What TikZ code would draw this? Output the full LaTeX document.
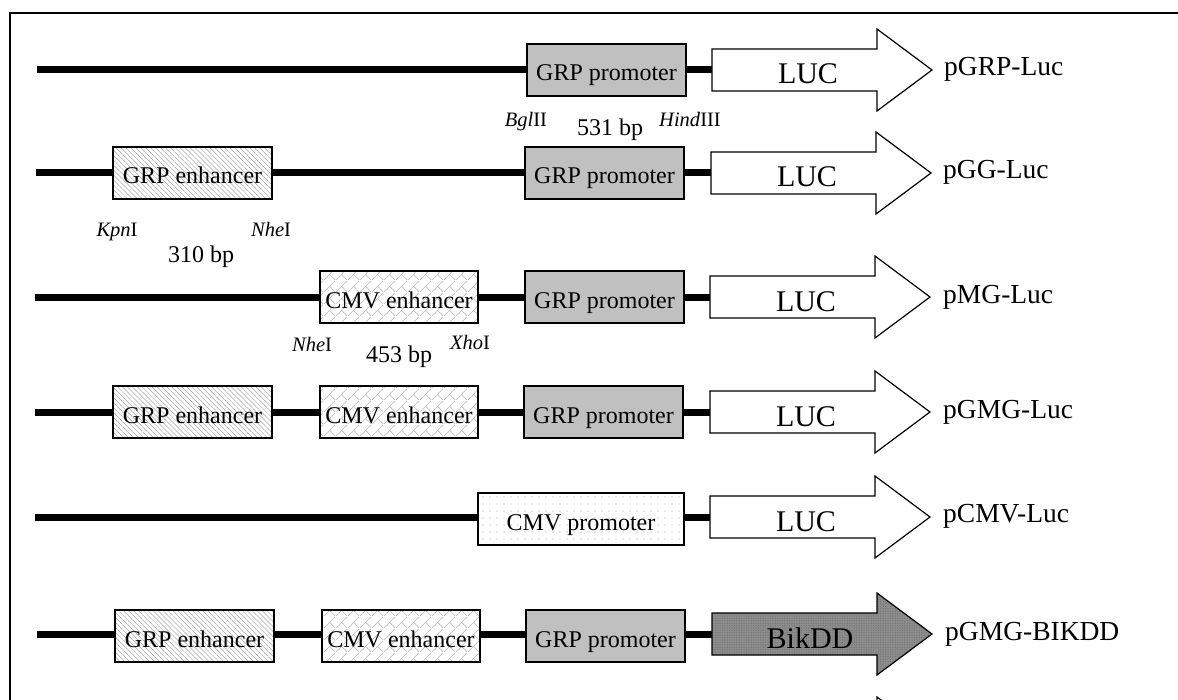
\documentclass[tikz,border=0pt]{standalone}
\usepackage{fontspec}
\setmainfont{Liberation Serif}
\usetikzlibrary{patterns,patterns.meta}
\pgfdeclarepatternformonly{cmvweave}{\pgfqpoint{0bp}{0bp}}{\pgfqpoint{12bp}{12bp}}{\pgfqpoint{12bp}{12bp}}{%
  \pgfsetlinewidth{0.6bp}%
  \pgfpathmoveto{\pgfqpoint{0bp}{0bp}}%
  \pgfpathcurveto{\pgfqpoint{4bp}{3bp}}{\pgfqpoint{8bp}{9bp}}{\pgfqpoint{12bp}{12bp}}%
  \pgfpathmoveto{\pgfqpoint{6bp}{6bp}}%
  \pgfpathlineto{\pgfqpoint{12bp}{0bp}}%
  \pgfusepath{stroke}}
\definecolor{promgray}{RGB}{192,192,192}
\definecolor{bikgray}{RGB}{140,140,140}
\newcommand\genearrow[3]{%
  \draw[#3] (#1,#2-21) -- ++(165,0) -- ++(0,-20) -- ++(55,41) -- ++(-55,41) -- ++(0,-20) -- ++(-165,0) -- cycle;}
\tikzset{
  dna/.style={line width=7bp},
  boxbase/.style={draw=black, line width=1.2bp, rectangle, inner sep=0pt,
    minimum height=52bp, text height=22bp, text depth=0bp,
    font=\fontsize{24bp}{28bp}\selectfont},
  grpenh/.style={boxbase, minimum width=159bp,
    pattern={Lines[angle=-45,distance=3.5bp,line width=0.5bp]}, pattern color=gray!70},
  cmvenh/.style={boxbase, minimum width=158bp, pattern=cmvweave, pattern color=gray!55},
  grpprom/.style={boxbase, minimum width=159bp, fill=promgray},
  cmvprom/.style={boxbase, minimum width=206bp,
    pattern={Dots[distance=7bp,radius=0.55bp]}, pattern color=gray!70},
  lucarrow/.style={draw=black, line width=1.2bp, fill=white},
  bikarrow/.style={draw=black, line width=1.2bp, preaction={fill=bikgray},
    pattern={Dots[distance=2.4bp,radius=0.6bp]}, pattern color=black!55},
  arrowtext/.style={inner sep=0pt, text height=24bp, text depth=0bp,
    font=\fontsize{30bp}{34bp}\selectfont},
  plabel/.style={anchor=base west, inner sep=0pt, font=\fontsize{27.5bp}{32bp}\selectfont},
  enz/.style={anchor=base, inner sep=0pt, font=\fontsize{20.5bp}{24bp}\selectfont},
  bp/.style={anchor=base, inner sep=0pt, font=\fontsize{24bp}{28bp}\selectfont},
}
\begin{document}
\begin{tikzpicture}[x=1bp,y=-1bp]
\clip (0,0) rectangle (1178,700);
\fill[white] (0,0) rectangle (1178,700);
% frame
\draw[line width=2bp] (10,760) -- (10,13) -- (1240,13);

% ---------- Row 1: pGRP-Luc ----------
\coordinate (s1) at (37,70);
\node[grpprom] (p1) at (606.5,70) {GRP promoter};
\genearrow{712}{70}{lucarrow}
\coordinate (a1) at (712,70);
\node[arrowtext] (t1) at (808,72) {LUC};
\node[plabel] (l1) at (944,76) {pGRP-Luc};
\draw[dna] (s1) -- (p1.west);
\draw[dna] (p1.east) -- (a1);
\node[enz] (bgl) at (526,127) {\textit{Bgl}II};
\node[bp] (bp531) at (610,136) {531 bp};
\node[enz] (hind) at (690,127) {\textit{Hind}III};

% ---------- Row 2: pGG-Luc ----------
\coordinate (s2) at (36,173);
\node[grpenh] (e2) at (192.5,173) {GRP enhancer};
\node[grpprom] (p2) at (604.5,173) {GRP promoter};
\genearrow{711}{173}{lucarrow}
\coordinate (a2) at (711,173);
\node[arrowtext] (t2) at (807,175) {LUC};
\node[plabel] (l2) at (943,179) {pGG-Luc};
\draw[dna] (s2) -- (e2.west);
\draw[dna] (e2.east) -- (p2.west);
\draw[dna] (p2.east) -- (a2);
\node[enz] (kpn) at (117,236) {\textit{Kpn}I};
\node[enz] (nhe1) at (271,236) {\textit{Nhe}I};
\node[bp] (bp310) at (201,262) {310 bp};

% ---------- Row 3: pMG-Luc ----------
\coordinate (s3) at (35,297);
\node[cmvenh] (c3) at (399,297) {CMV enhancer};
\node[grpprom] (p3) at (604.5,297) {GRP promoter};
\genearrow{710}{297}{lucarrow}
\coordinate (a3) at (710,297);
\node[arrowtext] (t3) at (806,299) {LUC};
\node[plabel] (l3) at (943,303) {pMG-Luc};
\draw[dna] (s3) -- (c3.west);
\draw[dna] (c3.east) -- (p3.west);
\draw[dna] (p3.east) -- (a3);
\node[enz] (nhe2) at (312,351) {\textit{Nhe}I};
\node[bp] (bp453) at (399,362) {453 bp};
\node[enz] (xho) at (470,349) {\textit{Xho}I};

% ---------- Row 4: pGMG-Luc ----------
\coordinate (s4) at (35,412);
\node[grpenh] (e4) at (192.5,412) {GRP enhancer};
\node[cmvenh] (c4) at (399,412) {CMV enhancer};
\node[grpprom] (p4) at (603.5,412) {GRP promoter};
\genearrow{710}{412}{lucarrow}
\coordinate (a4) at (710,412);
\node[arrowtext] (t4) at (806,414) {LUC};
\node[plabel] (l4) at (943,418) {pGMG-Luc};
\draw[dna] (s4) -- (e4.west);
\draw[dna] (e4.east) -- (c4.west);
\draw[dna] (c4.east) -- (p4.west);
\draw[dna] (p4.east) -- (a4);

% ---------- Row 5: pCMV-Luc ----------
\coordinate (s5) at (35,517);
\node[cmvprom] (m5) at (581,519) {CMV promoter};
\genearrow{710}{517}{lucarrow}
\coordinate (a5) at (710,517);
\node[arrowtext] (t5) at (806,519) {LUC};
\node[plabel] (l5) at (943,522) {pCMV-Luc};
\draw[dna] (s5) -- (s5 -| m5.west);
\draw[dna] (m5.east |- a5) -- (a5);

% ---------- Row 6: pGMG-BIKDD ----------
\coordinate (s6) at (37,634);
\node[grpenh] (e6) at (194.5,636) {GRP enhancer};
\node[cmvenh] (c6) at (401,636) {CMV enhancer};
\node[grpprom] (p6) at (605.5,636) {GRP promoter};
\genearrow{712}{634}{bikarrow}
\coordinate (a6) at (712,634);
\node[arrowtext] (t6) at (810,636) {BikDD};
\node[plabel] (l6) at (945,640) {pGMG-BIKDD};
\draw[dna] (s6) -- (s6 -| e6.west);
\draw[dna] (e6.east |- s6) -- (s6 -| c6.west);
\draw[dna] (c6.east |- s6) -- (s6 -| p6.west);
\draw[dna] (p6.east |- s6) -- (a6);

% ---------- Row 7 (cut off) ----------
\genearrow{712}{738}{lucarrow}
\end{tikzpicture}
\end{document}
